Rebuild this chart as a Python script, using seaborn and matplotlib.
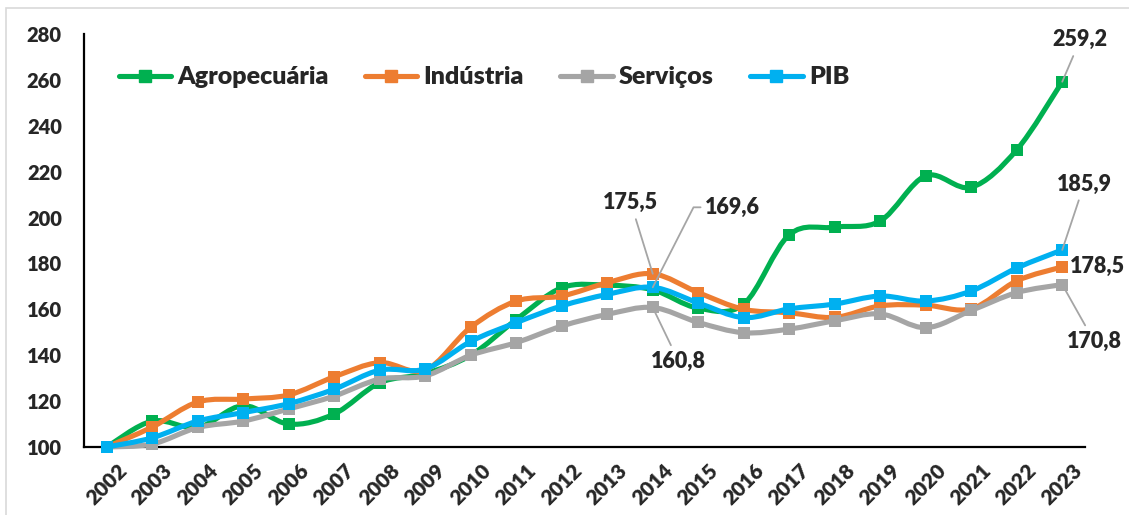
import numpy as np
import pandas as pd
import matplotlib
matplotlib.use("Agg")
import matplotlib.pyplot as plt
import seaborn as sns
from matplotlib.path import Path
from matplotlib.patches import PathPatch, Rectangle
from matplotlib.lines import Line2D
from matplotlib.transforms import ScaledTranslation

# ---------------- data ----------------
years = [str(y) for y in range(2002, 2024)]
agropecuaria = [100, 111.3, 108.5, 118.0, 110.0, 114.4, 128.0, 132.0, 140.0, 155.5, 169.4,
                170.5, 168.5, 160.5, 162.3, 192.5, 195.8, 198.5, 218.2, 213.2, 229.5, 259.2]
industria = [100, 108.7, 119.6, 120.9, 122.7, 130.6, 136.8, 133.5, 152.2, 163.6, 165.8,
             171.6, 175.5, 167.3, 160.0, 158.5, 156.5, 161.5, 161.8, 160.2, 172.4, 178.5]
servicos = [100, 101.3, 108.5, 111.3, 116.6, 122.2, 129.6, 131.0, 140.0, 145.5, 152.7,
            157.8, 160.8, 154.3, 149.8, 151.4, 155.0, 158.0, 152.0, 159.5, 167.3, 170.8]
pib = [100, 104.0, 111.3, 115.0, 118.9, 125.2, 133.5, 134.0, 146.0, 154.2, 161.5,
       166.5, 169.6, 162.8, 156.4, 160.2, 162.3, 165.8, 163.6, 168.0, 178.0, 185.9]
series_names = ["Agropecuária", "Indústria", "Serviços", "PIB"]
y_ticks = list(range(100, 281, 20))

colors = {"Agropecuária": "#00B050", "Indústria": "#ED7D31",
          "Serviços": "#A5A5A5", "PIB": "#00B0F0"}

df = pd.DataFrame({"Ano": years, "Agropecuária": agropecuaria, "Indústria": industria,
                   "Serviços": servicos, "PIB": pib})
df["idx"] = np.arange(len(years))
long = df.melt(id_vars=["Ano", "idx"], value_vars=series_names,
               var_name="Série", value_name="Índice")

# ---------------- style ----------------
sns.set_style("white")
plt.rcParams["font.family"] = ["Lato", "DejaVu Sans"]
WEIGHT = "heavy"
plt.rcParams["font.weight"] = WEIGHT

W, H = 1129, 515
fig = plt.figure(figsize=(W / 100, H / 100), dpi=100)
fig.patches.append(Rectangle((6 / W, -0.2), 1.2, 1 - 8 / H + 0.2, transform=fig.transFigure,
                             fill=False, edgecolor="#d9d9d9", lw=1.2, zorder=0))
ax = fig.add_axes([84 / W, 68 / H, 1001 / W, 413 / H])


def smooth_path(xs, ys):
    pts = np.column_stack([xs, ys]).astype(float)
    n = len(pts)
    verts = [pts[0]]
    codes = [Path.MOVETO]
    for i in range(n - 1):
        p0 = pts[i - 1] if i > 0 else pts[i]
        p1 = pts[i]
        p2 = pts[i + 1]
        p3 = pts[i + 2] if i + 2 < n else pts[i + 1]
        c1 = p1 + (p2 - p0) / 6.0
        c2 = p2 - (p3 - p1) / 6.0
        verts += [c1, c2, p2]
        codes += [Path.CURVE4] * 3
    return Path(verts, codes)


for k, name in enumerate(series_names):
    sub = long[long["Série"] == name]
    patch = PathPatch(smooth_path(sub["idx"].values, sub["Índice"].values),
                      facecolor="none", edgecolor=colors[name], lw=3.7,
                      capstyle="round", joinstyle="round", zorder=2 + 2 * k,
                      clip_on=False)
    ax.add_patch(patch)
    sns.scatterplot(data=sub, x="idx", y="Índice", color=colors[name], marker="s",
                    s=85, linewidth=0, ax=ax, zorder=3 + 2 * k, legend=False,
                    clip_on=False)

ax.set_xlim(-0.5, len(years) - 0.5)
ax.set_ylim(100, 280)
ax.set_yticks(y_ticks)
ax.set_yticklabels([str(t) for t in y_ticks], fontsize=14.5, fontweight=WEIGHT)
ax.set_xticks(df["idx"])
ax.set_xticklabels(years, fontsize=15, fontweight=WEIGHT, rotation=45,
                   ha="right", rotation_mode="anchor")
ax.tick_params(axis="y", length=0, pad=16)
ax.tick_params(axis="x", length=0, pad=10)
for lab in ax.get_xticklabels():
    lab.set_transform(lab.get_transform() + ScaledTranslation(10 / 100, 0, fig.dpi_scale_trans))
ax.set_xlabel("")
ax.set_ylabel("")
for s in ["top", "right"]:
    ax.spines[s].set_visible(False)
for s in ["left", "bottom"]:
    ax.spines[s].set_color("black")
    ax.spines[s].set_linewidth(1.6)

# legend
handles = [Line2D([0], [0], color=colors[n], lw=3.7, marker="s", markersize=9,
                  solid_capstyle="round") for n in series_names]
leg = ax.legend(handles, series_names, loc="center left", bbox_to_anchor=(0.012, 0.895),
                ncol=4, frameon=False, handlelength=2.1, handletextpad=0.25,
                columnspacing=1.45, prop={"size": 18, "weight": WEIGHT})

LABEL_SIZE = 15.5


def label(series, year, dx, dy, leader=True, shrinkB=0):
    i = years.index(year)
    v = df.loc[i, series]
    txt = f"{v:.1f}".replace(".", ",")
    ap = dict(arrowstyle="-", color="#A5A5A5", lw=1.3, shrinkA=2, shrinkB=shrinkB) if leader else None
    ax.annotate(txt, xy=(i, v), xytext=(dx, dy), textcoords="offset pixels",
                ha="center", va="center", fontsize=LABEL_SIZE, fontweight=WEIGHT,
                arrowprops=ap, zorder=20, annotation_clip=False)


label("Agropecuária", "2023", 18, 42)
label("PIB", "2023", 22, 66)
label("Indústria", "2023", 35, 0, leader=False)
label("Serviços", "2023", 32, -57, shrinkB=4)
label("Indústria", "2014", -22, 71)
label("Serviços", "2014", 26, -54, shrinkB=4)

# 169,6 with angled leader
i14 = years.index("2014")
v = df.loc[i14, "PIB"]
ax.annotate(f"{v:.1f}".replace(".", ","), xy=(i14, v), xytext=(80, 80),
            textcoords="offset pixels", ha="center", va="center", fontsize=LABEL_SIZE,
            fontweight=WEIGHT, zorder=20,
            arrowprops=dict(arrowstyle="-", color="#A5A5A5", lw=1.3, shrinkA=1, shrinkB=0,
                            connectionstyle="angle,angleA=0,angleB=63,rad=0"))

fig.savefig("out.png", dpi=100)
